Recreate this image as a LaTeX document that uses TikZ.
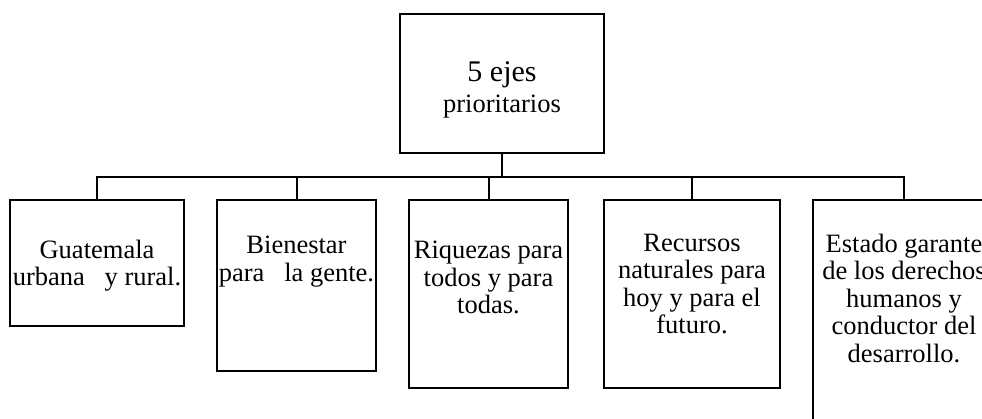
\documentclass[tikz,border=0pt]{standalone}
\usepackage{fontspec}
\setmainfont{Liberation Serif}
\usetikzlibrary{positioning}

\begin{document}
\begin{tikzpicture}[
  x=1pt, y=-1pt,
  box/.style={draw, rectangle, line width=2pt, inner sep=0pt},
  txt/.style={font=\fontsize{26.5}{27.5}\selectfont, align=center, inner sep=0pt},
  line width=2pt
]
\useasboundingbox (0,0) rectangle (982,418);
\clip (0,0) rectangle (982,418);

\node[box, minimum width=204pt, minimum height=139pt] (top) at (502,83.5) {};
\node[align=center, inner sep=0pt, font=\fontsize{30}{31}\selectfont,
  below=48pt of top.north] (toptxt)
  {5 ejes\\{\fontsize{26.5}{31}\selectfont prioritarios}};

\node[box, minimum width=174pt, minimum height=126pt] (b1) at (97,263) {};
\node[box, minimum width=159pt, minimum height=171pt] (b2) at (296.5,285.5) {};
\node[box, minimum width=159pt, minimum height=188pt] (b3) at (488.5,294) {};
\node[box, minimum width=176pt, minimum height=188pt] (b4) at (692,294) {};
\node[box, minimum width=182pt, minimum height=240pt] (b5) at (904,320) {};

\node[txt, below=40pt of b1.north] (t1) {Guatemala\\urbana\ \ \ y rural.};
\node[txt, below=36pt of b2.north] (t2) {Bienestar\\para\ \ \ la gente.};
\node[txt, below=41pt of b3.north] (t3) {Riquezas para\\todos y para\\todas.};
\node[txt, below=34pt of b4.north] (t4) {Recursos\\naturales para\\hoy y para el\\futuro.};
\node[txt, below=34pt of b5.north] (t5) {Estado garante\\de los derechos\\humanos y\\conductor del\\desarrollo.};

% fork
\coordinate (fork) at (502,176.5);
\draw (top.south) -- (fork);
\draw (b1.north) |- (fork) -| (b5.north);
\foreach \b in {b2,b3,b4}
  \draw (\b.north) -- (\b.north |- fork);
\end{tikzpicture}
\end{document}
